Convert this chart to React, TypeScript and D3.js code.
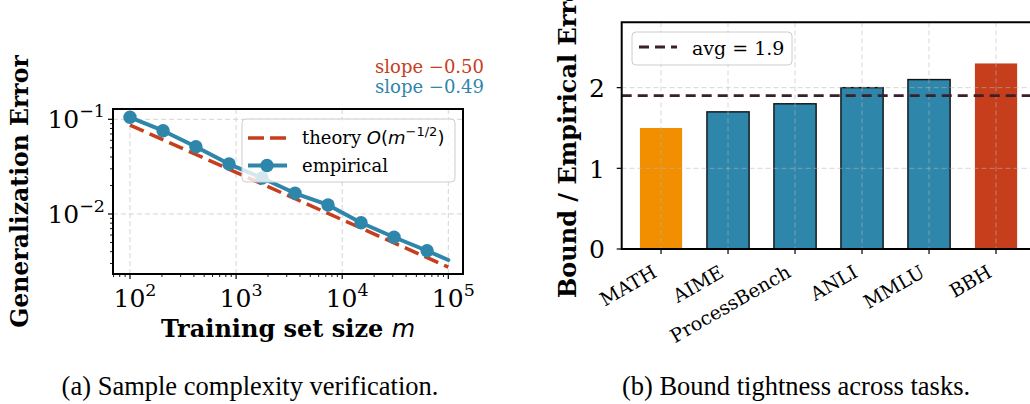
import React from 'react';
import * as d3 from 'd3';

// ---------- Panel (a) data ----------
const sampleSizes = [100, 205, 418, 858, 1755, 3594, 7356, 15058, 30823, 63096, 100000];
const empiricalError = [0.105, 0.0758, 0.0514, 0.0337, 0.024, 0.01655, 0.01245, 0.00809, 0.00568, 0.00409, 0.00327];
const markedCount = 10;
const theorySizes = [100, 1000, 10000, 100000];
const theoryError = [0.087, 0.0275, 0.0087, 0.00275];
const xTickExps = [2, 3, 4, 5];
const yTickExps = [-1, -2];
const slopeTheory = '−0.50';
const slopeEmpirical = '−0.49';

// ---------- Panel (b) data ----------
const tasks = ['MATH', 'AIME', 'ProcessBench', 'ANLI', 'MMLU', 'BBH'];
const ratios = [1.5, 1.7, 1.8, 2.0, 2.1, 2.3];
const barColors = ['#F18F01', '#2E86AB', '#2E86AB', '#2E86AB', '#2E86AB', '#C73E1D'];
const barEdged = [false, true, true, true, true, false];
const avgValue = 1.9;
const bTicks = [0, 1, 2];

const RED = '#C73E1D';
const BLUE = '#2E86AB';
const DARK = '#3B1F2B';
const GRID = '#d4d4d4';
const SERIF = 'DejaVu Serif';
const TICK = 25;
const SUP = 17.5;

export default function App() {
  // ---------- Panel (a) scales ----------
  const aL = 113, aR = 463, aT = 109, aB = 274;
  const x = d3.scaleLog().domain([Math.pow(10, 1.8398), Math.pow(10, 5.1385)]).range([aL, aR]);
  const y = d3.scaleLog().domain([Math.pow(10, -2.6336), Math.pow(10, -0.8912)]).range([aB, aT]);

  const empLine = d3.line<number>().x((d, i) => x(sampleSizes[i])).y(d => y(d));
  const thLine = d3.line<number>().x((d, i) => x(theorySizes[i])).y(d => y(d));

  const xMinor: number[] = [];
  for (let e = 1; e <= 5; e++) for (let k = 2; k <= 9; k++) {
    const v = k * Math.pow(10, e);
    const px = x(v);
    if (px >= aL && px <= aR) xMinor.push(v);
  }
  const yMinor: number[] = [];
  for (let e = -3; e <= -1; e++) for (let k = 2; k <= 9; k++) {
    const v = k * Math.pow(10, e);
    const py = y(v);
    if (py >= aT && py <= aB) yMinor.push(v);
  }

  // ---------- Panel (b) scales ----------
  const bL = 621.7, bT = 22.3, bB = 249;
  const bx = d3.scaleLinear().domain([-0.587, 5.587]).range([bL, bL + 6.174 * 67]);
  const by = d3.scaleLinear().domain([0, 2.81]).range([bB, bT]);
  const barW = bx(0.63) - bx(0);
  const bR = bx(5.587);

  return (
    <svg width={1030} height={404} style={{ position: 'absolute', left: 0, top: 0, background: '#fff' }} fontFamily={SERIF}>
      <defs>
        <clipPath id="clipA"><rect x={aL} y={aT} width={aR - aL} height={aB - aT} /></clipPath>
        <clipPath id="clipB"><rect x={bL} y={bT} width={bR - bL} height={bB - bT} /></clipPath>
      </defs>

      {/* ================= Panel (a) ================= */}
      <g>
        {xTickExps.map(e => (
          <line key={'gx' + e} x1={x(Math.pow(10, e))} x2={x(Math.pow(10, e))} y1={aT} y2={aB} stroke={GRID} strokeWidth={1} strokeDasharray="5,3" />
        ))}
        {yTickExps.map(e => (
          <line key={'gy' + e} x1={aL} x2={aR} y1={y(Math.pow(10, e))} y2={y(Math.pow(10, e))} stroke={GRID} strokeWidth={1} strokeDasharray="5,3" />
        ))}
        <g clipPath="url(#clipA)">
          <path d={thLine(theoryError) || ''} fill="none" stroke={RED} strokeWidth={3.5} strokeDasharray="15,6.5" />
          <path d={empLine(empiricalError) || ''} fill="none" stroke={BLUE} strokeWidth={4} strokeLinejoin="round" strokeLinecap="round" />
          {empiricalError.slice(0, markedCount).map((v, i) => (
            <circle key={'m' + i} cx={x(sampleSizes[i])} cy={y(v)} r={6.7} fill={BLUE} />
          ))}
        </g>
        <rect x={aL} y={aT} width={aR - aL} height={aB - aT} fill="none" stroke="#000" strokeWidth={2} />
        {xTickExps.map(e => (
          <g key={'xt' + e}>
            <line x1={x(Math.pow(10, e))} x2={x(Math.pow(10, e))} y1={aB} y2={aB + 5} stroke="#000" strokeWidth={1.2} />
            <text x={x(Math.pow(10, e)) + 5} y={306.5} fontSize={TICK} textAnchor="middle">
              10<tspan fontSize={SUP} dy={-11}>{e}</tspan>
            </text>
          </g>
        ))}
        {xMinor.map((v, i) => (
          <line key={'xm' + i} x1={x(v)} x2={x(v)} y1={aB} y2={aB + 3} stroke="#000" strokeWidth={0.9} />
        ))}
        {yTickExps.map(e => (
          <g key={'yt' + e}>
            <line x1={aL - 5} x2={aL} y1={y(Math.pow(10, e))} y2={y(Math.pow(10, e))} stroke="#000" strokeWidth={1.2} />
            <text x={105} y={y(Math.pow(10, e)) + 9} fontSize={TICK} textAnchor="end">
              10<tspan fontSize={SUP} dy={-11}>{'−' + Math.abs(e)}</tspan>
            </text>
          </g>
        ))}
        {yMinor.map((v, i) => (
          <line key={'ym' + i} x1={aL - 3} x2={aL} y1={y(v)} y2={y(v)} stroke="#000" strokeWidth={0.9} />
        ))}
        <text transform={`translate(28,${(aT + aB) / 2}) rotate(-90)`} textAnchor="middle" fontSize={23.5} fontWeight="bold">Generalization Error</text>
        <text x={(aL + aR) / 2} y={337} textAnchor="middle" fontSize={24} fontWeight="bold">
          Training set size <tspan fontFamily="DejaVu Sans" fontStyle="italic" fontWeight="normal">m</tspan>
        </text>
        <text x={484} y={73} textAnchor="end" fontSize={18} fill={RED}>slope {slopeTheory}</text>
        <text x={484} y={93} textAnchor="end" fontSize={18} fill={BLUE}>slope {slopeEmpirical}</text>
        {/* legend */}
        <rect x={242} y={119} width={213} height={63} rx={4} fill="#fff" fillOpacity={0.8} stroke="#cccccc" strokeWidth={1} />
        <line x1={248} x2={287} y1={138} y2={138} stroke={RED} strokeWidth={3.5} strokeDasharray="16,6" />
        <text x={302} y={144} fontSize={18}>
          theory <tspan fontFamily="DejaVu Sans" fontStyle="italic">O</tspan><tspan fontFamily="DejaVu Sans">(</tspan><tspan fontFamily="DejaVu Sans" fontStyle="italic">m</tspan><tspan fontFamily="DejaVu Sans" fontSize={13} dy={-8}>−1/2</tspan><tspan fontFamily="DejaVu Sans" dy={8}>)</tspan>
        </text>
        <line x1={248} x2={287} y1={165.5} y2={165.5} stroke={BLUE} strokeWidth={4} />
        <circle cx={267} cy={165.5} r={6.7} fill={BLUE} />
        <text x={302} y={171.5} fontSize={18}>empirical</text>
      </g>

      {/* ================= Panel (b) ================= */}
      <g>
        <g clipPath="url(#clipB)">
          {ratios.map((v, i) => (
            <rect key={'bar' + i} x={bx(i) - barW / 2} y={by(v)} width={barW} height={by(0) - by(v)} fill={barColors[i]}
              stroke={barEdged[i] ? '#111' : 'none'} strokeWidth={1.4} />
          ))}
          {tasks.map((t, i) => (
            <line key={'bgx' + i} x1={bx(i)} x2={bx(i)} y1={bT} y2={bB} stroke="#b8b8b8" strokeOpacity={0.55} strokeWidth={1} strokeDasharray="5,3" />
          ))}
          {bTicks.map(t => (
            <line key={'bgy' + t} x1={bL} x2={bR} y1={by(t)} y2={by(t)} stroke="#b8b8b8" strokeOpacity={0.55} strokeWidth={1} strokeDasharray="5,3" />
          ))}
          <line x1={bL} x2={bR} y1={by(avgValue)} y2={by(avgValue)} stroke={DARK} strokeWidth={2.8} strokeDasharray="10,6" />
        </g>
        <path d={`M${bR},${bT} L${bL},${bT} L${bL},${bB} L${bR},${bB}`} fill="none" stroke="#000" strokeWidth={2} />
        {bTicks.map(t => (
          <g key={'byt' + t}>
            <line x1={bL - 5} x2={bL} y1={by(t)} y2={by(t)} stroke="#000" strokeWidth={1.2} />
            <text x={605} y={by(t) + 9.3} fontSize={TICK} textAnchor="end">{t}</text>
          </g>
        ))}
        {tasks.map((t, i) => (
          <g key={'bxt' + i}>
            <line x1={bx(i)} x2={bx(i)} y1={bB} y2={bB + 5} stroke="#000" strokeWidth={1.2} />
            <text transform={`translate(${bx(i) - 3},${276}) rotate(-30)`} textAnchor="end" fontSize={19}>{t}</text>
          </g>
        ))}
        <text transform={`translate(576,${(bT + bB) / 2}) rotate(-90)`} textAnchor="middle" fontSize={24} fontWeight="bold">Bound / Empirical Error</text>
        <rect x={632} y={32} width={160} height={33} rx={4} fill="#fff" fillOpacity={0.8} stroke="#cccccc" strokeWidth={1} />
        <line x1={639} x2={677} y1={47} y2={47} stroke={DARK} strokeWidth={2.8} strokeDasharray="10,6" />
        <text x={692} y={55} fontSize={19}>avg = {avgValue}</text>
      </g>

      {/* captions */}
      <text x={250} y={395} textAnchor="middle" fontSize={26.5} fontFamily="Liberation Serif">(a) Sample complexity verification.</text>
      <text x={796} y={395} textAnchor="middle" fontSize={26.5} fontFamily="Liberation Serif">(b) Bound tightness across tasks.</text>
    </svg>
  );
}
